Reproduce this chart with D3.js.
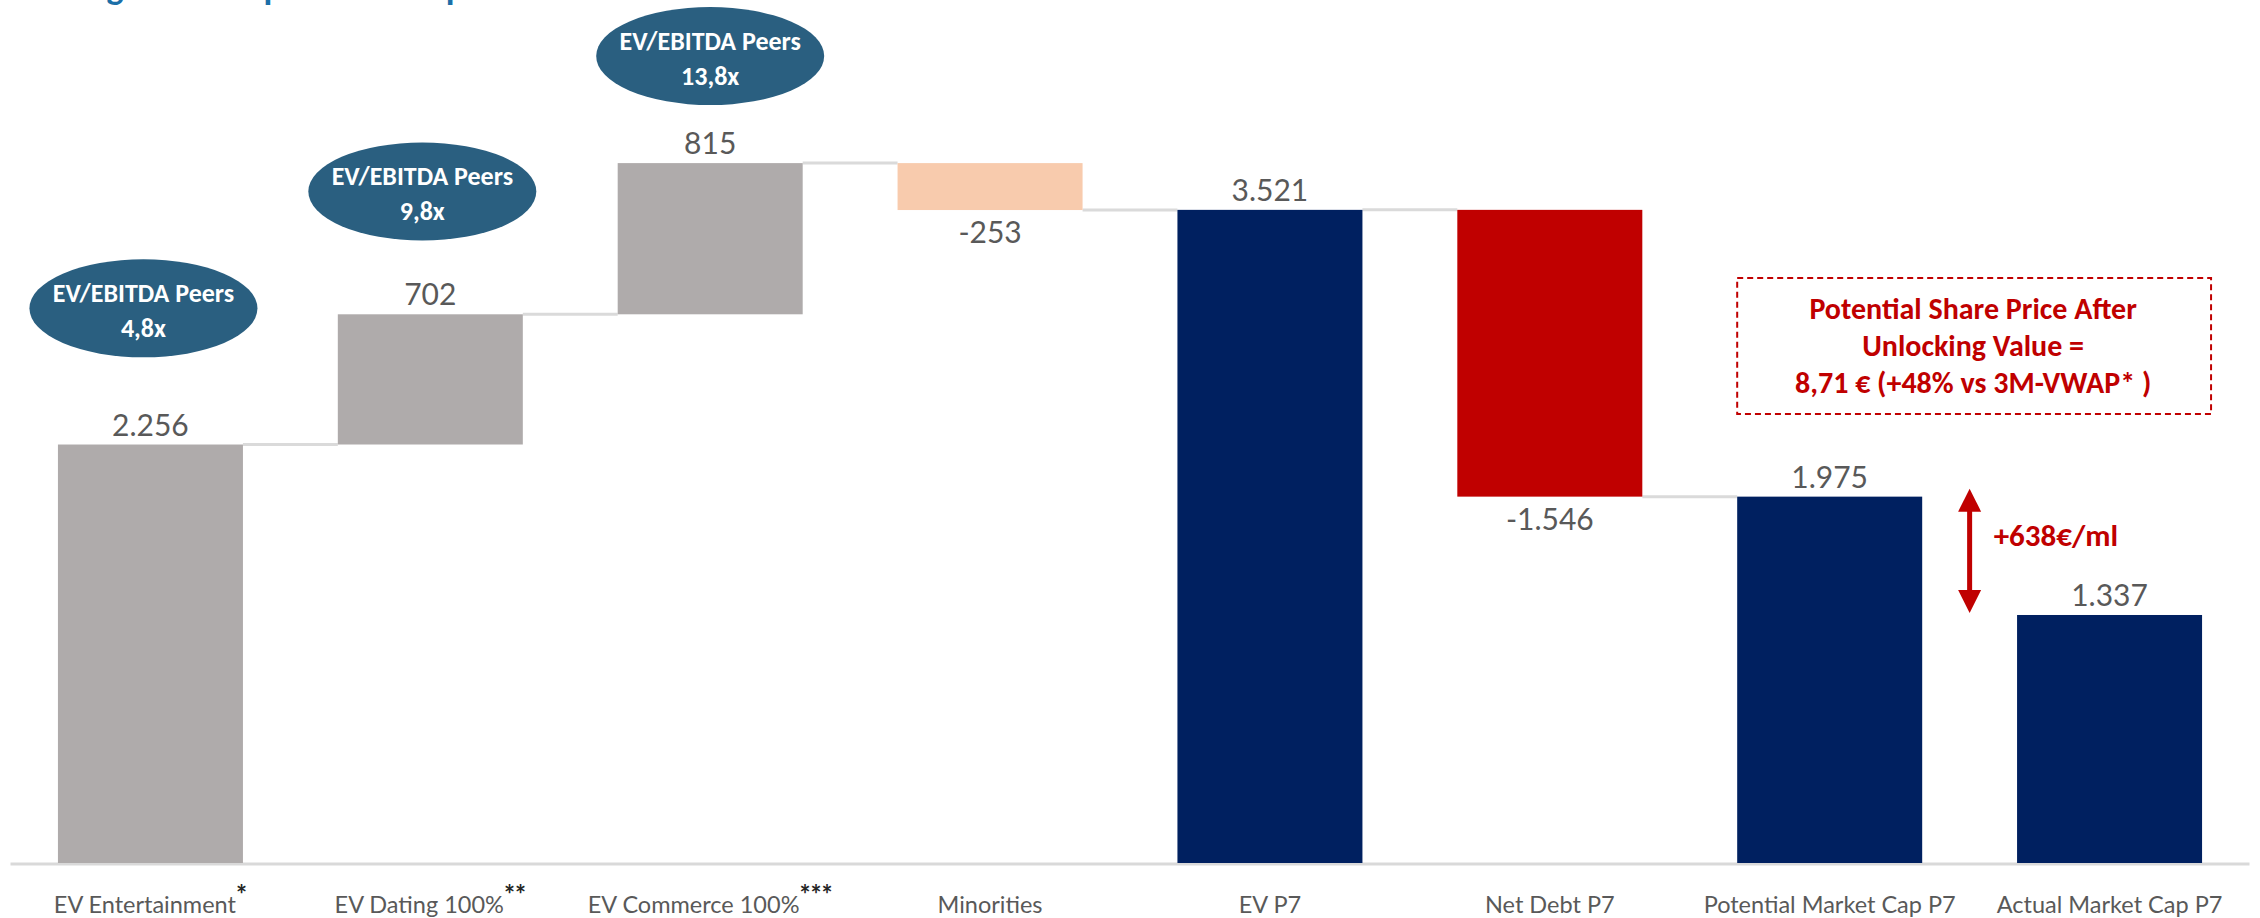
<!DOCTYPE html>
<html>
<head>
<meta charset="utf-8">
<script src="https://cdn.jsdelivr.net/npm/d3@7"></script>
<style>
  body { margin: 0; background: #fff; }
</style>
</head>
<body>
<div id="chart"></div>
<script>
// data of the bridge
const categories = ["EV Entertainment", "EV Dating 100%", "EV Commerce 100%", "Minorities",
                    "EV P7", "Net Debt P7", "Potential Market Cap P7", "Actual Market Cap P7"];
const footnotes = ["*", "**", "***", "", "", "", "", ""];
const values = [2256, 702, 815, -253, 3521, -1546, 1975, 1337];
const valueLabels = ["2.256", "702", "815", "-253", "3.521", "-1.546", "1.975", "1.337"];
const isTotal = [false, false, false, false, true, false, true, true];
const kinds = ["part", "part", "part", "minor", "total", "debt", "total", "total"];
const linkToNext = [true, true, true, true, true, true, false];

// peers multiples shown in the bubbles over the first three bars
const multiples = ["4,8x", "9,8x", "13,8x"];
const multipleLevel = [2990, 3620, 4350];   // bubble centre, in value units
const multipleShift = [-7, -8, 0];

const boxLines = ["Potential Share Price After", "Unlocking Value =", "8,71 € (+48% vs 3M-VWAP* )"];
const upliftLabel = "+638€/ml";
const titleText = "Strong hidden upside in the portfolio";

const colors = { part: "#AFABAB", minor: "#F8CBAD", total: "#002060", debt: "#C00000" };
const width = 2260, height = 918;
const labelFont = "'Gill Sans', 'Gill Sans MT', Lato, sans-serif";
const boldFont = "Calibri, Carlito, Lato, sans-serif";

// build start / end of every bar
let run = 0;
const bars = values.map((v, i) => {
  let res = {};
  res.cat = categories[i];
  if (isTotal[i]) { res.y0 = 0; res.y1 = v; run = v; }
  else { res.y0 = run; res.y1 = run + v; run = run + v; }
  res.value = v;
  res.kind = kinds[i];
  res.label = valueLabels[i];
  res.end = run;
  return res;
});

const svg = d3.select("#chart").append("svg")
  .attr("width", width)
  .attr("height", height)
  .style("display", "block");

const x = d3.scaleBand()
  .domain(categories)
  .range([10.5, 2249.5])
  .paddingInner(0.339)
  .paddingOuter(0.1695);

const y = d3.scaleLinear()
  .domain([0, 4000])
  .range([863, 863 - 4000 * 0.1855]);

// title of the slide, cut by the top of the picture
svg.append("text")
  .attr("x", 26).attr("y", -1)
  .attr("font-family", boldFont).attr("font-weight", "bold")
  .attr("font-size", 36).attr("fill", "#1B6FA8")
  .text(titleText);

// baseline
svg.append("line")
  .attr("x1", x.range()[0]).attr("x2", x.range()[1])
  .attr("y1", y(0) + 1).attr("y2", y(0) + 1)
  .attr("stroke", "#D9D9D9").attr("stroke-width", 3);

// connectors between bars
svg.append("g").selectAll("line")
  .data(bars.slice(0, -1).filter((d, i) => linkToNext[i]))
  .enter().append("line")
  .attr("x1", d => x(d.cat) + x.bandwidth())
  .attr("x2", d => x(categories[categories.indexOf(d.cat) + 1]))
  .attr("y1", d => y(d.end)).attr("y2", d => y(d.end))
  .attr("stroke", "#DADADA").attr("stroke-width", 3);

// bars
svg.append("g").selectAll("rect")
  .data(bars)
  .enter().append("rect")
  .attr("x", d => x(d.cat))
  .attr("width", x.bandwidth())
  .attr("y", d => y(Math.max(d.y0, d.y1)))
  .attr("height", d => Math.abs(y(d.y0) - y(d.y1)))
  .attr("fill", d => colors[d.kind]);

// value labels (above for positive, below for negative)
svg.append("g").selectAll("text")
  .data(bars)
  .enter().append("text")
  .attr("x", d => x(d.cat) + x.bandwidth() / 2)
  .attr("y", d => d.value >= 0 ? y(d.y1) - 9 : y(d.y1) + 33)
  .attr("text-anchor", "middle")
  .attr("font-family", labelFont).attr("font-size", 30)
  .attr("fill", "#595959")
  .text(d => d.label);

// category labels with footnote marks
const xl = svg.append("g").selectAll("text")
  .data(categories)
  .enter().append("text")
  .attr("x", d => x(d) + x.bandwidth() / 2)
  .attr("y", 913)
  .attr("text-anchor", "middle")
  .attr("font-family", labelFont).attr("font-size", 23.5)
  .attr("fill", "#595959");
xl.append("tspan").text(d => d);
xl.append("tspan")
  .attr("dy", -9).attr("font-size", 26).attr("font-weight", "bold")
  .attr("fill", "#262626")
  .text((d, i) => footnotes[i]);

// EV/EBITDA bubbles
const bub = svg.append("g").selectAll("g")
  .data(multiples)
  .enter().append("g")
  .attr("transform", (d, i) => `translate(${x(categories[i]) + x.bandwidth() / 2 + multipleShift[i]}, ${y(multipleLevel[i])})`);
bub.append("ellipse")
  .attr("rx", 114).attr("ry", 49)
  .attr("fill", "#2A5F80");
bub.append("text")
  .attr("y", -6).attr("text-anchor", "middle")
  .attr("font-family", boldFont).attr("font-weight", "bold")
  .attr("font-size", 26).attr("fill", "#fff")
  .text("EV/EBITDA Peers");
bub.append("text")
  .attr("y", 29).attr("text-anchor", "middle")
  .attr("font-family", boldFont).attr("font-weight", "bold")
  .attr("font-size", 26).attr("fill", "#fff")
  .text(d => d);

// dashed box with the share price message
const bx0 = x(categories[6]), bx1 = x(categories[7]) + x.bandwidth() + 9;
svg.append("rect")
  .attr("x", bx0).attr("y", 278)
  .attr("width", bx1 - bx0).attr("height", 136)
  .attr("fill", "none").attr("stroke", "#C00000")
  .attr("stroke-width", 2).attr("stroke-dasharray", "6,4");
svg.append("g").selectAll("text")
  .data(boxLines)
  .enter().append("text")
  .attr("x", (bx0 + bx1) / 2 - 1)
  .attr("y", (d, i) => 319 + i * 37)
  .attr("text-anchor", "middle")
  .attr("font-family", boldFont).attr("font-weight", "bold")
  .attr("font-size", 30).attr("fill", "#C00000")
  .text(d => d);

// double arrow between potential and actual market cap
const ax = (x(categories[6]) + x.bandwidth() + x(categories[7])) / 2;
const aTop = y(values[6]) - 8, aBot = y(values[7]) - 2;
const head = 23, half = 11.5;
svg.append("rect")
  .attr("x", ax - 2.5).attr("y", aTop + head - 2)
  .attr("width", 5).attr("height", aBot - aTop - 2 * head + 4)
  .attr("fill", "#C00000");
svg.append("path")
  .attr("d", `M${ax},${aTop} L${ax + half},${aTop + head} L${ax - half},${aTop + head} Z`)
  .attr("fill", "#C00000");
svg.append("path")
  .attr("d", `M${ax},${aBot} L${ax + half},${aBot - head} L${ax - half},${aBot - head} Z`)
  .attr("fill", "#C00000");
svg.append("text")
  .attr("x", ax + 24).attr("y", (aTop + aBot) / 2 - 5)
  .attr("font-family", boldFont).attr("font-weight", "bold")
  .attr("font-size", 31).attr("fill", "#C00000")
  .text(upliftLabel);
</script>
</body>
</html>
